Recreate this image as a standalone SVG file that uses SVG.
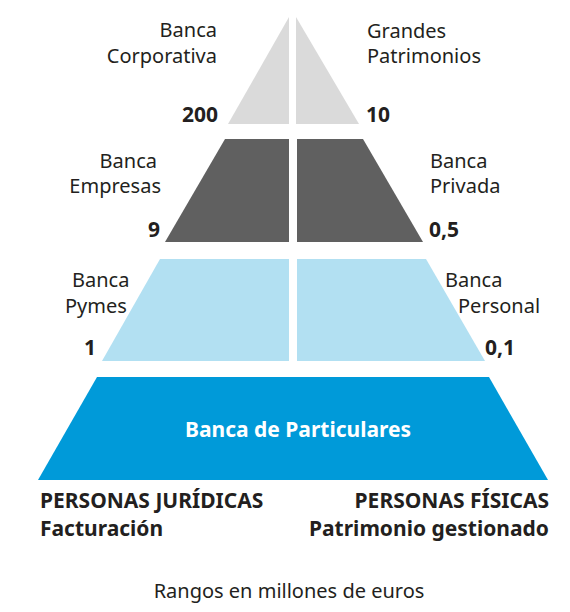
<svg xmlns="http://www.w3.org/2000/svg" width="570" height="612" viewBox="0 0 570 612">
<style>
text{font-family:"Noto Sans","Open Sans","Liberation Sans",sans-serif;font-size:20px;fill:#231f20}
.b{font-weight:bold;font-size:21px}
.r{text-anchor:end}
.c{text-anchor:middle}
.w{fill:#ffffff}
</style>
<rect width="570" height="612" fill="#ffffff"/>
<g id="level1">
<polygon points="289,17 289,124 228,124" fill="#dadada"/>
<polygon points="296,17 296,124 359,124" fill="#dadada"/>
</g>
<g id="level2">
<polygon points="225,139 289,139 289,242 165,242" fill="#606060"/>
<polygon points="297,139 363,139 423,242 297,242" fill="#606060"/>
</g>
<g id="level3">
<polygon points="160,259 289,259 289,361 102,361" fill="#b2e0f2"/>
<polygon points="297,259 426,259 485,361 297,361" fill="#b2e0f2"/>
</g>
<g id="level4">
<polygon points="97,377 489,377 548,480 38,480" fill="#009ad9"/>
<text class="b w c" x="298" y="437">Banca de Particulares</text>
</g>
<g id="corporativa">
<text class="r" x="217" y="37">Banca</text>
<text class="r" x="217" y="63">Corporativa</text>
<text class="b r" x="218" y="122">200</text>
</g>
<g id="patrimonios">
<text x="367" y="38">Grandes</text>
<text x="367" y="63">Patrimonios</text>
<text class="b" x="366" y="122">10</text>
</g>
<g id="empresas">
<text class="r" x="157" y="168">Banca</text>
<text class="r" x="161" y="193">Empresas</text>
<text class="b r" x="160" y="237">9</text>
</g>
<g id="privada">
<text x="430" y="168">Banca</text>
<text x="430" y="193">Privada</text>
<text class="b" x="429" y="237">0,5</text>
</g>
<g id="pymes">
<text x="72" y="287">Banca</text>
<text x="65" y="313">Pymes</text>
<text class="b" x="84" y="355">1</text>
</g>
<g id="personal">
<text x="445" y="287">Banca</text>
<text x="458" y="313">Personal</text>
<text class="b" x="485" y="355">0,1</text>
</g>
<g id="legend">
<text class="b" x="40" y="508">PERSONAS JURÍDICAS</text>
<text class="b" x="40" y="536">Facturación</text>
<text class="b r" x="549" y="508">PERSONAS FÍSICAS</text>
<text class="b r" x="549" y="536">Patrimonio gestionado</text>
<text class="c" x="289" y="598">Rangos en millones de euros</text>
</g>
<g id="connectors"></g>
</svg>
